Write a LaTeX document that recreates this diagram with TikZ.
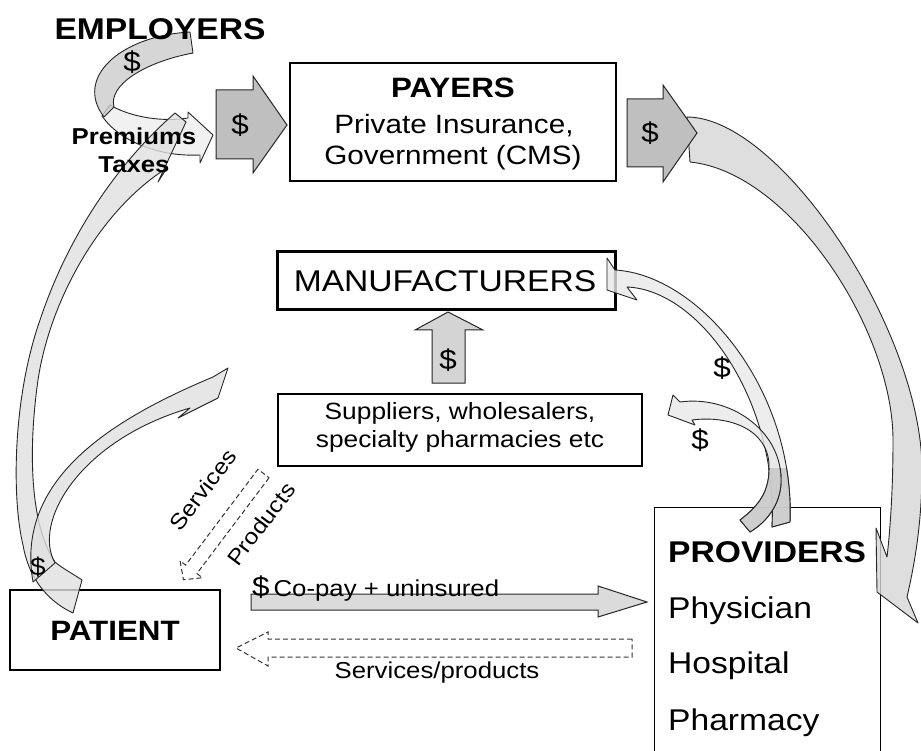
\documentclass[tikz,border=0pt]{standalone}
\usepackage{fontspec}
\setmainfont{Liberation Sans}[FakeStretch=1.12]
\newcommand{\fsz}[1]{\fontsize{#1}{#1}\selectfont}

\tikzset{
  box/.style={draw, line width=1.3pt, fill=white, inner sep=0pt},
  lbl/.style={inner sep=0pt, anchor=base},
  money/.style={inner sep=0pt, font=\fsz{28}},
  ribbon/.style={draw=black!85, line width=0.9pt, line join=round, fill=black!12, fill opacity=0.8},
  blockarrow/.style={draw=black!85, line width=1pt, fill=black!25},
  dashedarrow/.style={draw=black!80, line width=1pt, dash pattern=on 5pt off 3pt}
}

% curved flows out of the providers box
\def\mfrpath{(790,522) .. controls (795,390) and (700,275) .. (615,270) -- (607,258) -- (607,290) -- (637,300) -- (627,287) .. controls (700,290) and (778,400) .. (772,527) -- cycle}
\def\suppath{(750,532) .. controls (770,520) and (782,500) .. (781,478) .. controls (780,430) and (730,395) .. (680,402) -- (673,395) -- (668,415) -- (695,425) -- (692,420) .. controls (730,415) and (768,430) .. (769,465) .. controls (770,490) and (760,505) .. (740,520) -- cycle}

\begin{document}
\begin{tikzpicture}[x=1pt, y=-1pt]
\useasboundingbox (0,0) rectangle (921,751);

% boxes
\node[box, minimum width=326pt, minimum height=118pt] (payers) at (453,122) {};
\node[box, line width=3pt, minimum width=338pt, minimum height=58pt] (manufacturers) at (446,281) {};
\node[box, minimum width=364pt, minimum height=72pt] (suppliers) at (460,430) {};
\node[box, minimum width=210pt, minimum height=80pt] (patient) at (115,630) {};
\node[box, anchor=north west, minimum width=226pt, minimum height=270pt] (providers) at (654,507) {};

% payers -> providers
\draw[ribbon, fill=black!16] (687,117) .. controls (780,117) and (922,330) .. (922,470) .. controls (922,530) and (912,575) .. (907,597) -- (918,623) -- (877,592) -- (876,528) -- (887,557) .. controls (889,540) and (893,500) .. (893,440) .. controls (893,330) and (790,172) .. (690,162) -- cycle;

% $ block arrows either side of payers
\draw[blockarrow] (216,90) -- (253,90) -- (253,76) -- (287,125) -- (253,173) -- (253,159) -- (216,159) -- cycle;
\draw[blockarrow] (627,99) -- (663,99) -- (663,85) -- (697,133) -- (663,182) -- (663,167) -- (627,167) -- cycle;

% employers loop
\draw[ribbon, fill=black!7] (110,105) .. controls (132,118) and (165,122) .. (188,118) -- (188,112) -- (213,135) -- (200,163) -- (200,155) .. controls (160,157) and (120,142) .. (102,116) -- cycle;
\draw[ribbon, fill=black!20] (190,32) .. controls (120,36) and (74,78) .. (104,117) -- (114,107) .. controls (108,85) and (145,62) .. (193,53) -- cycle;

% patient -> premiums, patient -> suppliers
\draw[ribbon] (73,613) -- (82,580) .. controls (70,572) and (62,568) .. (55,562) .. controls (30,525) and (28,450) .. (38,380) .. controls (50,300) and (100,210) .. (167,168) -- (158,182) -- (186,122) -- (175,113) .. controls (110,170) and (65,245) .. (40,320) .. controls (12,400) and (12,500) .. (23,545) .. controls (28,575) and (45,600) .. (73,613) -- cycle;
\draw[ribbon] (33,582) -- (55,563) .. controls (32,522) and (80,440) .. (190,408) -- (178,418) -- (218,398) -- (228,368) -- (213,377) .. controls (110,420) and (15,480) .. (33,582) -- cycle;

% suppliers -> manufacturers
\draw[blockarrow, fill=black!17] (432,383) -- (432,330) -- (415,330) -- (448,312) -- (483,330) -- (465,330) -- (465,383) -- cycle;

% providers -> manufacturers, providers -> suppliers
\draw[ribbon, fill=black!9] \mfrpath;
\begin{scope}
  \clip (700,468) rectangle (800,540);
  \draw[ribbon, fill=black!22] \mfrpath;
\end{scope}
\draw[ribbon, fill=black!9] \suppath;
\begin{scope}
  \clip (700,468) rectangle (800,540);
  \draw[ribbon, fill=black!22] \suppath;
\end{scope}

% patient <-> providers
\draw[blockarrow, fill=black!14] (251,594) -- (598,594) -- (598,586) -- (647,602) -- (598,617) -- (598,610) -- (251,610) -- cycle;
\draw[dashedarrow] (632,639) -- (268,639) -- (268,632) -- (236,648) -- (268,666) -- (268,657) -- (632,657) -- cycle;
\begin{scope}[shift={(263.5,473.5)}, rotate=233]
  \draw[dashedarrow] (0,-7) -- (120,-7) -- (120,-14) -- (133,0) -- (120,14) -- (120,7) -- (0,7) -- cycle;
\end{scope}

% texts
\node[lbl, font=\bfseries\fsz{30}] (employers) at (160,40) {EMPLOYERS};
\node[lbl, font=\bfseries\fsz{23}] (premiums) at (134,145) {Premiums};
\node[lbl, font=\bfseries\fsz{23}] (taxes) at (134,173) {Taxes};
\node[lbl, font=\bfseries\fsz{28}] (payerstitle) at (453,98) {PAYERS};
\node[lbl, font=\fsz{26.5}] (payersline1) at (454,134) {Private Insurance,};
\node[lbl, font=\fsz{26.5}] (payersline2) at (453,165) {Government (CMS)};
\node[lbl, font=\fsz{30}] (mfrtitle) at (445,292) {MANUFACTURERS};
\node[lbl, font=\fsz{23.5}] (supline1) at (460,419) {Suppliers, wholesalers,};
\node[lbl, font=\fsz{23.5}] (supline2) at (460,447) {specialty pharmacies etc};
\node[lbl, font=\bfseries\fsz{28}] (patienttitle) at (115,640) {PATIENT};
\node[lbl, anchor=base west, font=\bfseries\fsz{30}] (provtitle) at (668,562) {PROVIDERS};
\node[lbl, anchor=base west, font=\fsz{30}] (physician) at (668,618) {Physician};
\node[lbl, anchor=base west, font=\fsz{30}] (hospital) at (668,673) {Hospital};
\node[lbl, anchor=base west, font=\fsz{30}] (pharmacy) at (668,730) {Pharmacy};
\node[lbl, anchor=base west, font=\fsz{23}] (copay) at (252,596) {{\fsz{28}\$}\hspace{4pt}Co-pay + uninsured};
\node[lbl, font=\fsz{23}] (servprod) at (437,678) {Services/products};
\node[inner sep=0pt, font=\fsz{22}, rotate=53] (services) at (203,490) {Services};
\node[inner sep=0pt, font=\fsz{22}, rotate=53] (products) at (261,524) {Products};

% dollar signs
\node[money] (d1) at (132,62) {\$};
\node[money] (d2) at (240,125) {\$};
\node[money] (d3) at (650,133) {\$};
\node[money] (d4) at (448,360) {\$};
\node[money] (d5) at (722,368) {\$};
\node[money] (d6) at (700,440) {\$};
\node[money, font=\fsz{25}] (d7) at (38,567) {\$};
\end{tikzpicture}
\end{document}
